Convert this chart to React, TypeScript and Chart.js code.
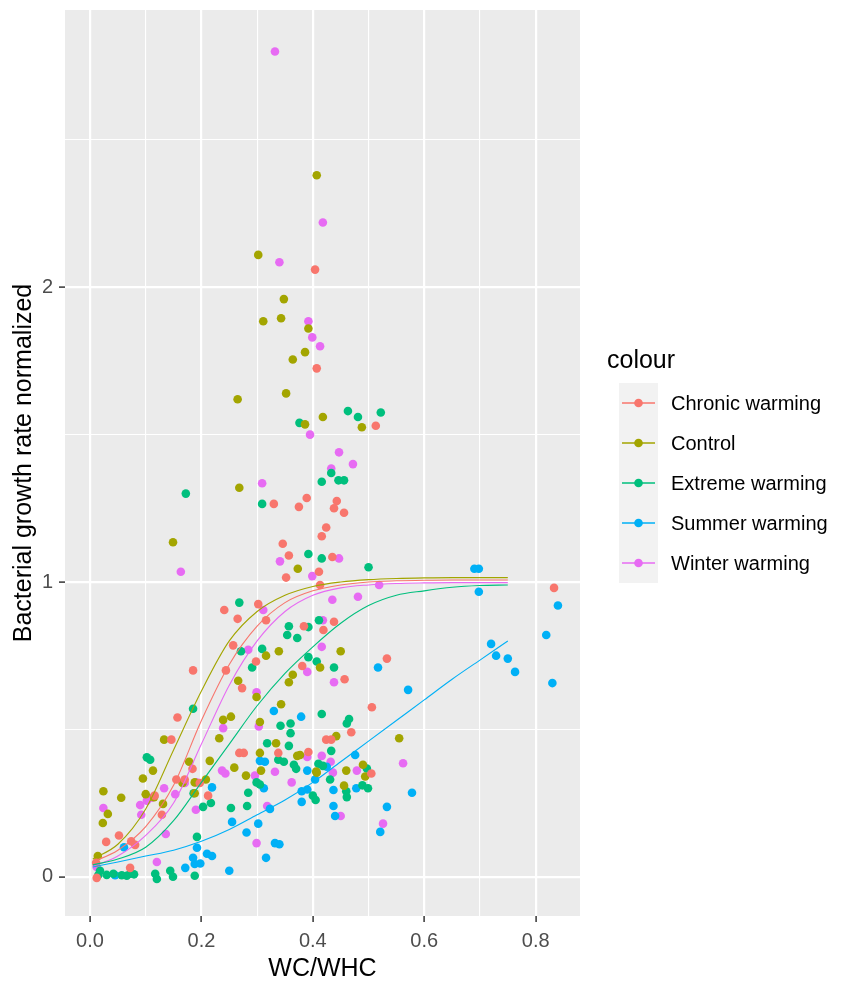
import React, { useEffect, useRef } from "react";
import { Chart, registerables } from "chart.js";

Chart.register(...registerables);

const FONT = "'Liberation Sans', Arial, Helvetica, sans-serif";

const groupNames = ["Chronic warming", "Control", "Extreme warming", "Summer warming", "Winter warming"];
const groupColors = ["#F8766D", "#A3A500", "#00BF7D", "#00B0F6", "#E76BF3"];

// Observations: [WC/WHC, normalized bacterial growth rate]
const chronicWarming: [number, number][] = [
  [0.404, 2.06], [0.407, 1.725], [0.513, 1.53], [0.389, 1.285], [0.375, 1.255],
  [0.443, 1.275], [0.438, 1.25], [0.456, 1.235], [0.424, 1.185], [0.416, 1.155],
  [0.346, 1.13], [0.357, 1.09], [0.435, 1.085], [0.352, 1.015], [0.411, 1.035],
  [0.413, 0.99], [0.384, 0.85], [0.438, 0.865], [0.419, 0.837], [0.33, 1.265],
  [0.241, 0.905], [0.302, 0.925], [0.265, 0.875], [0.316, 0.87], [0.185, 0.7],
  [0.257, 0.785], [0.298, 0.73], [0.244, 0.7], [0.381, 0.715], [0.273, 0.64],
  [0.457, 0.67], [0.533, 0.74], [0.506, 0.575], [0.833, 0.98], [0.469, 0.49],
  [0.424, 0.465], [0.433, 0.465], [0.392, 0.423], [0.505, 0.35], [0.268, 0.42],
  [0.276, 0.42], [0.338, 0.42], [0.184, 0.366], [0.212, 0.275], [0.157, 0.54],
  [0.146, 0.465], [0.155, 0.33], [0.17, 0.33], [0.116, 0.275], [0.129, 0.21],
  [0.052, 0.14], [0.029, 0.118], [0.074, 0.12], [0.081, 0.108], [0.011, 0.047],
  [0.012, -0.004], [0.072, 0.03], [0.197, 0.318],
];

const control: [number, number][] = [
  [0.302, 2.11], [0.407, 2.38], [0.348, 1.96], [0.311, 1.885], [0.343, 1.895],
  [0.392, 1.86], [0.386, 1.78], [0.364, 1.755], [0.352, 1.64], [0.265, 1.62],
  [0.386, 1.535], [0.418, 1.56], [0.488, 1.525], [0.149, 1.135], [0.268, 1.32],
  [0.373, 1.045], [0.45, 0.765], [0.413, 0.71], [0.316, 0.75], [0.339, 0.765],
  [0.364, 0.685], [0.357, 0.66], [0.266, 0.665], [0.299, 0.61], [0.343, 0.585],
  [0.253, 0.543], [0.239, 0.532], [0.232, 0.47], [0.305, 0.525], [0.334, 0.453],
  [0.305, 0.42], [0.372, 0.41], [0.215, 0.393], [0.259, 0.37], [0.307, 0.36],
  [0.407, 0.353], [0.28, 0.343], [0.208, 0.33], [0.188, 0.32], [0.188, 0.283],
  [0.555, 0.47], [0.442, 0.477], [0.377, 0.413], [0.406, 0.357], [0.46, 0.36],
  [0.49, 0.38], [0.494, 0.34], [0.456, 0.309], [0.133, 0.465], [0.113, 0.36],
  [0.095, 0.333], [0.178, 0.39], [0.024, 0.29], [0.056, 0.268], [0.1, 0.28],
  [0.115, 0.27], [0.131, 0.247], [0.032, 0.213], [0.023, 0.182], [0.014, 0.07],
  [0.166, 0.318],
];

const extremeWarming: [number, number][] = [
  [0.376, 1.54], [0.463, 1.58], [0.481, 1.56], [0.522, 1.575], [0.433, 1.37],
  [0.416, 1.34], [0.446, 1.345], [0.456, 1.345], [0.392, 1.095], [0.416, 1.08],
  [0.5, 1.05], [0.357, 0.85], [0.392, 0.847], [0.411, 0.87], [0.172, 1.3],
  [0.309, 1.265], [0.268, 0.93], [0.354, 0.82], [0.372, 0.81], [0.271, 0.765],
  [0.309, 0.773], [0.291, 0.71], [0.392, 0.745], [0.407, 0.73], [0.438, 0.71],
  [0.185, 0.57], [0.416, 0.552], [0.342, 0.512], [0.36, 0.52], [0.461, 0.52],
  [0.465, 0.535], [0.36, 0.487], [0.318, 0.453], [0.357, 0.444], [0.338, 0.397],
  [0.348, 0.39], [0.366, 0.38], [0.37, 0.366], [0.299, 0.32], [0.305, 0.313],
  [0.284, 0.285], [0.405, 0.26], [0.217, 0.25], [0.203, 0.237], [0.253, 0.233],
  [0.282, 0.24], [0.192, 0.135], [0.188, 0.003], [0.433, 0.427], [0.41, 0.383],
  [0.418, 0.376], [0.497, 0.367], [0.431, 0.33], [0.489, 0.31], [0.499, 0.3],
  [0.46, 0.29], [0.461, 0.27], [0.4, 0.275], [0.102, 0.405], [0.108, 0.397],
  [0.186, 0.283], [0.018, 0.02], [0.015, 0.006], [0.03, 0.006], [0.042, 0.01],
  [0.057, 0.005], [0.066, 0.003], [0.072, 0.01], [0.079, 0.008], [0.117, 0.01],
  [0.12, -0.008], [0.144, 0.02], [0.149, 0.0],
];

const summerWarming: [number, number][] = [
  [0.69, 1.045], [0.698, 1.045], [0.698, 0.967], [0.84, 0.92], [0.819, 0.82],
  [0.72, 0.79], [0.729, 0.75], [0.75, 0.74], [0.763, 0.695], [0.83, 0.657],
  [0.517, 0.71], [0.571, 0.634], [0.578, 0.285], [0.533, 0.237], [0.521, 0.152],
  [0.33, 0.562], [0.379, 0.543], [0.476, 0.413], [0.425, 0.373], [0.39, 0.36],
  [0.404, 0.33], [0.478, 0.3], [0.437, 0.294], [0.38, 0.29], [0.39, 0.296],
  [0.38, 0.254], [0.437, 0.24], [0.44, 0.206], [0.305, 0.393], [0.314, 0.39],
  [0.312, 0.3], [0.219, 0.303], [0.323, 0.23], [0.255, 0.186], [0.302, 0.18],
  [0.281, 0.15], [0.332, 0.114], [0.34, 0.11], [0.316, 0.064], [0.192, 0.098],
  [0.21, 0.078], [0.219, 0.07], [0.188, 0.043], [0.198, 0.045], [0.25, 0.02],
  [0.171, 0.03], [0.045, 0.005], [0.061, 0.1], [0.185, 0.064],
];

const winterWarming: [number, number][] = [
  [0.332, 2.8], [0.34, 2.085], [0.418, 2.22], [0.392, 1.885], [0.399, 1.83],
  [0.413, 1.8], [0.395, 1.5], [0.447, 1.44], [0.472, 1.4], [0.433, 1.385],
  [0.447, 1.08], [0.341, 1.07], [0.399, 1.02], [0.519, 0.99], [0.435, 0.94],
  [0.481, 0.95], [0.418, 0.87], [0.416, 0.78], [0.39, 0.695], [0.438, 0.66],
  [0.163, 1.035], [0.309, 1.335], [0.311, 0.905], [0.284, 0.77], [0.299, 0.626],
  [0.303, 0.51], [0.239, 0.504], [0.39, 0.406], [0.416, 0.41], [0.432, 0.39],
  [0.436, 0.353], [0.479, 0.36], [0.45, 0.206], [0.237, 0.36], [0.243, 0.35],
  [0.332, 0.356], [0.296, 0.343], [0.191, 0.32], [0.362, 0.32], [0.19, 0.227],
  [0.318, 0.24], [0.299, 0.114], [0.562, 0.385], [0.526, 0.18], [0.133, 0.3],
  [0.09, 0.243], [0.102, 0.258], [0.111, 0.268], [0.153, 0.28], [0.092, 0.21],
  [0.024, 0.233], [0.136, 0.145], [0.12, 0.05], [0.012, 0.033], [0.17, 0.318],
];

// Fitted sigmoid curves, sampled on a shared WC/WHC grid
const fitX = [0.005, 0.05, 0.1, 0.15, 0.2, 0.25, 0.3, 0.35, 0.4, 0.45, 0.5, 0.55, 0.6, 0.65, 0.7, 0.75];
const fitChronic = [0.05, 0.09, 0.17, 0.31, 0.53, 0.72, 0.85, 0.93, 0.97, 0.99, 1.0, 1.004, 1.006, 1.007, 1.007, 1.007];
const fitControl = [0.06, 0.11, 0.23, 0.43, 0.63, 0.8, 0.9, 0.955, 0.985, 1.0, 1.008, 1.012, 1.014, 1.015, 1.015, 1.015];
const fitExtreme = [0.04, 0.06, 0.1, 0.19, 0.32, 0.45, 0.58, 0.69, 0.78, 0.86, 0.92, 0.955, 0.97, 0.982, 0.988, 0.99];
const fitSummer = [0.033, 0.05, 0.07, 0.09, 0.12, 0.16, 0.21, 0.26, 0.32, 0.39, 0.46, 0.53, 0.6, 0.67, 0.735, 0.8];
const fitWinter = [0.035, 0.07, 0.14, 0.25, 0.45, 0.65, 0.8, 0.9, 0.955, 0.98, 0.99, 0.995, 0.997, 0.998, 0.998, 0.998];

const xTicks = [0, 0.1, 0.2, 0.3, 0.4, 0.5, 0.6, 0.7, 0.8];
const yTicks = [0, 0.5, 1, 1.5, 2, 2.5];
const xLimits = [-0.0449, 0.8796];
const yLimits = [-0.1334, 2.941];

const isMajorX = (v: number) => Math.round(v * 10) % 2 === 0;
const isMajorY = (v: number) => Math.abs(v - Math.round(v)) < 1e-9;

const groupPoints = [chronicWarming, control, extremeWarming, summerWarming, winterWarming];
const groupFits = [fitChronic, fitControl, fitExtreme, fitSummer, fitWinter];

const panelBackground = {
  id: "panelBackground",
  beforeDraw(chart: any) {
    const { ctx, chartArea: a } = chart;
    ctx.save();
    ctx.fillStyle = "#EBEBEB";
    ctx.fillRect(a.left, a.top, a.right - a.left, a.bottom - a.top);
    ctx.restore();
  },
};

const colourLegend = {
  id: "colourLegend",
  afterDraw(chart: any) {
    const { ctx, chartArea: a } = chart;
    const left = a.right + 27;
    ctx.save();
    ctx.fillStyle = "#000000";
    ctx.font = `25px ${FONT}`;
    ctx.textAlign = "left";
    ctx.textBaseline = "alphabetic";
    ctx.fillText("colour", left, 368);

    const keyLeft = left + 12;
    const keyTop = 383;
    const keyW = 39;
    const keyH = 40;
    ctx.fillStyle = "#F2F2F2";
    ctx.fillRect(keyLeft, keyTop, keyW, keyH * groupNames.length);

    groupNames.forEach((name, i) => {
      const cy = keyTop + keyH * i + keyH / 2;
      const cx = keyLeft + keyW / 2;
      ctx.strokeStyle = groupColors[i];
      ctx.lineWidth = 1.4;
      ctx.beginPath();
      ctx.moveTo(keyLeft + 3, cy);
      ctx.lineTo(keyLeft + keyW - 3, cy);
      ctx.stroke();
      ctx.fillStyle = groupColors[i];
      ctx.beginPath();
      ctx.arc(cx, cy, 4.3, 0, Math.PI * 2);
      ctx.fill();
      ctx.fillStyle = "#000000";
      ctx.font = `20px ${FONT}`;
      ctx.textBaseline = "middle";
      ctx.fillText(name, keyLeft + keyW + 13, cy + 1);
    });
    ctx.restore();
  },
};

export default function App() {
  const canvasRef = useRef<HTMLCanvasElement>(null);

  useEffect(() => {
    const canvas = canvasRef.current;
    if (!canvas) return;

    const pointSets = groupNames.map((name, i) => ({
      label: name,
      data: groupPoints[i].map(([x, y]) => ({ x, y })),
      backgroundColor: groupColors[i],
      borderColor: groupColors[i],
      borderWidth: 0,
      pointRadius: 4.3,
      showLine: false,
      order: 1,
    }));

    const fitSets = groupNames.map((name, i) => ({
      label: name + " fit",
      data: fitX.map((x, j) => ({ x, y: groupFits[i][j] })),
      borderColor: groupColors[i],
      backgroundColor: groupColors[i],
      borderWidth: 1.1,
      pointRadius: 0,
      showLine: true,
      cubicInterpolationMode: "monotone",
      order: 0,
    }));

    const tickFont = { family: FONT, size: 20 };
    const titleFont = { family: FONT, size: 25 };

    const chart = new Chart(canvas, {
      type: "scatter",
      data: { datasets: [...fitSets, ...pointSets] as any },
      options: {
        animation: false,
        responsive: false,
        devicePixelRatio: 1,
        layout: { padding: { left: 0, right: 266, top: 10, bottom: 0 } },
        plugins: {
          legend: { display: false },
          tooltip: { enabled: false },
        },
        scales: {
          x: {
            type: "linear",
            min: xLimits[0],
            max: xLimits[1],
            afterBuildTicks: (s: any) => {
              s.ticks = xTicks.map((v) => ({ value: v }));
            },
            afterFit: (s: any) => {
              s.height = 69;
              s.paddingLeft = 0;
              s.paddingRight = 0;
            },
            ticks: {
              autoSkip: false,
              maxRotation: 0,
              padding: 7,
              color: "#4D4D4D",
              font: tickFont,
              callback: (v: any) => (isMajorX(Number(v)) ? Number(v).toFixed(1) : ""),
            },
            grid: {
              color: "#FFFFFF",
              lineWidth: (c: any) => (isMajorX(c.tick?.value ?? 0) ? 2.2 : 1.1),
              drawTicks: true,
              tickLength: 6,
              tickWidth: 1.5,
              tickColor: (c: any) => (isMajorX(c.tick?.value ?? 0) ? "#333333" : "rgba(0,0,0,0)"),
            },
            border: { display: false },
            title: {
              display: true,
              text: "WC/WHC",
              color: "#000000",
              font: titleFont,
              padding: { top: 0, bottom: 1 },
            },
          },
          y: {
            type: "linear",
            min: yLimits[0],
            max: yLimits[1],
            afterBuildTicks: (s: any) => {
              s.ticks = yTicks.map((v) => ({ value: v }));
            },
            afterFit: (s: any) => {
              s.width = 65;
              s.paddingTop = 0;
              s.paddingBottom = 0;
            },
            ticks: {
              autoSkip: false,
              padding: 6,
              color: "#4D4D4D",
              font: tickFont,
              callback: (v: any) => (isMajorY(Number(v)) ? String(Math.round(Number(v))) : ""),
            },
            grid: {
              color: "#FFFFFF",
              lineWidth: (c: any) => (isMajorY(c.tick?.value ?? 0) ? 2.2 : 1.1),
              drawTicks: true,
              tickLength: 6,
              tickWidth: 1.5,
              tickColor: (c: any) => (isMajorY(c.tick?.value ?? 0) ? "#333333" : "rgba(0,0,0,0)"),
            },
            border: { display: false },
            title: {
              display: true,
              text: "Bacterial growth rate normalized",
              color: "#000000",
              font: titleFont,
              padding: { top: 9, bottom: 0 },
            },
          },
        },
      },
      plugins: [panelBackground, colourLegend],
    } as any);

    return () => chart.destroy();
  }, []);

  return (
    <div style={{ position: "fixed", left: 0, top: 0, width: 846, height: 985, background: "#FFFFFF" }}>
      <canvas ref={canvasRef} width={846} height={985} style={{ display: "block", width: 846, height: 985 }} />
    </div>
  );
}
